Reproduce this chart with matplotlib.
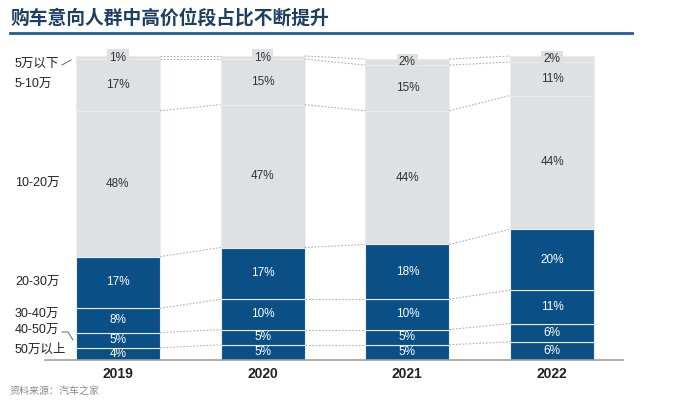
import matplotlib.pyplot as plt
import numpy as np

plt.rcParams['font.family'] = ['Liberation Sans', 'Noto Sans CJK SC', 'DejaVu Sans']

years = ['2019', '2020', '2021', '2022']
categories = ['50万以上', '40-50万', '30-40万', '20-30万', '10-20万', '5-10万', '5万以下']
values = {
    '50万以上': [4, 5, 5, 6],
    '40-50万': [5, 5, 5, 6],
    '30-40万': [8, 10, 10, 11],
    '20-30万': [17, 17, 18, 20],
    '10-20万': [48, 47, 44, 44],
    '5-10万': [17, 15, 15, 11],
    '5万以下': [1, 1, 2, 2],
}

blue = '#0b4f87'
grey = '#dfe0e2'
colors = [blue, blue, blue, blue, grey, grey, grey]

fig = plt.figure(figsize=(7, 4.05), dpi=100)
ax = fig.add_axes([45 / 700, 1 - 360 / 405, 578 / 700, 304 / 405])
ax.set_xlim(-0.504, 3.49)
ax.set_ylim(0, 100)
ax.axis('off')

x = np.arange(len(years))
w = 0.58
bottom = np.zeros(len(years))
tops = []
for cat, col in zip(categories, colors):
    v = np.array(values[cat], dtype=float)
    ax.bar(x, v, w, bottom=bottom, color=col, edgecolor='#e8edf2', linewidth=0.8)
    for i in range(len(years)):
        yc = bottom[i] + v[i] / 2
        txtcol = 'white' if col == blue else '#333333'
        if cat == '5万以下':
            ax.text(x[i], yc, f'{int(v[i])}%', ha='center', va='center', fontsize=8.5,
                    color=txtcol, bbox=dict(facecolor=grey, edgecolor='none', pad=1.6))
        else:
            ax.text(x[i], yc, f'{int(v[i])}%', ha='center', va='center', fontsize=8.5,
                    color=txtcol)
    bottom = bottom + v
    tops.append(bottom.copy())

# dotted connectors between bars
for t in tops:
    for i in range(len(years) - 1):
        ax.plot([x[i] + w / 2, x[i + 1] - w / 2], [t[i], t[i + 1]], color='#b0b0b0',
                linestyle=(0, (1.5, 1.5)), linewidth=0.8, clip_on=False)

# baseline
ax.plot([-0.504, 3.49], [0, 0], color='#a0a0a0', linewidth=1.2, clip_on=False)

# year labels
for i, yr in enumerate(years):
    ax.text(x[i], -4.5, yr, ha='center', va='center', fontsize=10, fontweight='bold',
            color='#222222')

# category labels on the left (centred on 2019 segments, small ones nudged)
nudge = {'50万以上': 1.5, '40-50万': 3, '30-40万': 2, '5万以下': -2}
lo = 0
lab_x = 15 / 700
for cat in categories:
    v0 = values[cat][0]
    yc = lo + v0 / 2 + nudge.get(cat, 0)
    ax.text(lab_x, ax.transData.transform((0, yc))[1] / fig.bbox.height, cat,
            transform=fig.transFigure, ha='left', va='center', fontsize=9, color='#222222')
    lo += v0

# leader lines
fig.add_artist(plt.Line2D([62 / 700, 71 / 700], [1 - 65 / 405, 1 - 60 / 405],
                          color='#666666', linewidth=0.7))
fig.add_artist(plt.Line2D([62 / 700, 68 / 700, 73 / 700],
                          [1 - 332 / 405, 1 - 332 / 405, 1 - 340 / 405],
                          color='#666666', linewidth=0.7))

# title and rule
fig.text(10 / 700, 1 - 18 / 405, '购车意向人群中高价位段占比不断提升', ha='left', va='center',
         fontsize=13.5, fontweight='bold', color='#1d3f66', family=['Noto Sans CJK SC'])
fig.add_artist(plt.Line2D([10 / 700, 632 / 700], [1 - 33 / 405, 1 - 33 / 405],
                          color='#1f5f9f', linewidth=2))

fig.text(10 / 700, 1 - 391 / 405, '资料来源：汽车之家', ha='left', va='center', fontsize=7.2,
         color='#8a8a8a', family=['Noto Sans CJK SC'])

fig.savefig('out.png', dpi=100)
